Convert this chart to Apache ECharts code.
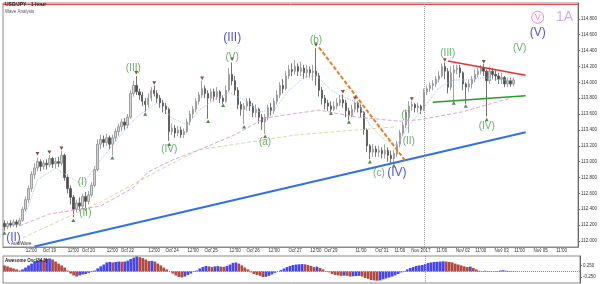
<!DOCTYPE html>
<html><head><meta charset="utf-8">
<script src="https://cdn.jsdelivr.net/npm/echarts@6/dist/echarts.min.js"></script>
<style>html,body{margin:0;padding:0;background:#fff}#c{width:600px;height:284px}</style>
</head><body><div id="c"></div>
<script>
const CATEGORY_COUNT = 192;
// [open, close, low, high]
const candles = [
[112.22,112.18,112.13,112.26],[112.18,112.22,112.15,112.25],[112.22,112.20,112.17,112.26],[112.20,112.24,112.18,112.27],
[112.24,112.21,112.17,112.27],[112.21,112.26,112.19,112.29],[112.26,112.40,112.24,112.43],[112.40,112.52,112.37,112.56],
[112.52,112.66,112.48,112.70],[112.66,112.84,112.62,112.88],[112.84,112.92,112.78,112.98],[112.92,113.00,112.88,113.05],
[113.00,112.94,112.88,113.03],[112.94,112.98,112.90,113.02],[112.98,112.96,112.90,113.03],[112.96,113.04,112.93,113.08],
[113.04,112.97,112.92,113.06],[112.97,113.00,112.91,113.05],[113.00,112.98,112.93,113.06],[112.98,113.08,112.95,113.14],
[113.08,112.80,112.76,113.10],[112.80,112.66,112.60,112.84],[112.66,112.55,112.46,112.70],[112.55,112.40,112.30,112.58],
[112.40,112.48,112.36,112.52],[112.48,112.44,112.38,112.55],[112.44,112.56,112.40,112.60],[112.56,112.50,112.38,112.62],
[112.50,112.58,112.46,112.63],[112.58,112.70,112.55,112.74],[112.70,112.90,112.68,112.94],[112.90,113.22,112.88,113.28],
[113.22,113.28,113.16,113.34],[113.28,113.24,113.18,113.33],[113.24,113.30,113.20,113.35],[113.30,113.22,113.16,113.33],
[113.22,113.30,113.08,113.34],[113.30,113.38,113.26,113.42],[113.38,113.44,113.32,113.48],[113.44,113.50,113.38,113.54],
[113.50,113.46,113.40,113.55],[113.46,113.56,113.42,113.60],[113.56,113.86,113.54,113.90],[113.86,113.96,113.82,114.02],
[113.96,113.88,113.84,114.08],[113.88,113.84,113.78,113.92],[113.84,113.76,113.70,113.88],[113.76,113.72,113.63,113.80],
[113.72,113.80,113.68,113.86],[113.80,113.90,113.76,113.94],[113.90,113.86,113.82,113.96],[113.86,113.80,113.74,113.90],
[113.80,113.74,113.68,113.84],[113.74,113.70,113.62,113.78],[113.70,113.66,113.60,113.74],[113.66,113.38,113.26,113.68],
[113.38,113.42,113.34,113.48],[113.42,113.36,113.30,113.46],[113.36,113.40,113.32,113.45],[113.40,113.34,113.30,113.44],
[113.34,113.38,113.30,113.42],[113.38,113.50,113.36,113.54],[113.50,113.60,113.46,113.64],[113.60,113.66,113.55,113.70],
[113.66,113.76,113.62,113.80],[113.76,113.84,113.72,113.88],[113.84,113.92,113.80,114.02],[113.92,113.86,113.80,113.96],
[113.86,113.80,113.54,113.90],[113.80,113.88,113.76,113.92],[113.88,113.82,113.76,113.92],[113.82,113.88,113.78,113.94],
[113.88,113.80,113.74,113.90],[113.80,113.76,113.73,113.84],[113.76,113.90,113.74,113.96],[113.90,114.10,113.88,114.18],
[114.10,114.02,113.96,114.25],[114.02,113.90,113.84,114.08],[113.90,113.72,113.66,113.94],[113.72,113.66,113.58,113.76],
[113.66,113.70,113.47,113.74],[113.70,113.76,113.64,113.80],[113.76,113.70,113.64,113.80],[113.70,113.62,113.56,113.74],
[113.62,113.66,113.56,113.72],[113.66,113.56,113.48,113.68],[113.56,113.50,113.40,113.60],[113.50,113.56,113.35,113.60],
[113.56,113.68,113.52,113.72],[113.68,113.64,113.58,113.74],[113.64,113.76,113.60,113.80],[113.76,113.84,113.72,113.90],
[113.84,113.96,113.80,114.00],[113.96,113.92,113.86,114.04],[113.92,114.08,113.90,114.14],[114.08,114.16,114.04,114.22],
[114.16,114.14,114.08,114.24],[114.14,114.20,114.10,114.28],[114.20,114.14,114.08,114.24],[114.14,114.18,114.08,114.26],
[114.18,114.12,114.04,114.22],[114.12,114.16,114.06,114.22],[114.16,114.12,114.06,114.20],[114.12,114.14,114.02,114.22],
[114.14,114.08,113.96,114.43],[114.08,113.90,113.82,114.12],[113.90,113.80,113.72,113.94],[113.80,113.74,113.66,113.84],
[113.74,113.70,113.64,113.78],[113.70,113.66,113.63,113.76],[113.66,113.70,113.64,113.76],[113.70,113.74,113.66,113.80],
[113.74,113.78,113.70,113.84],[113.78,113.74,113.68,113.85],[113.74,113.64,113.56,113.78],[113.64,113.58,113.52,113.68],
[113.58,113.66,113.56,113.72],[113.66,113.74,113.62,113.77],[113.74,113.68,113.62,113.76],[113.68,113.62,113.56,113.72],
[113.62,113.40,113.34,113.64],[113.40,113.20,113.12,113.42],[113.20,113.12,113.03,113.22],[113.12,113.16,113.06,113.22],
[113.16,113.12,113.06,113.20],[113.12,113.14,113.06,113.20],[113.14,113.10,113.04,113.18],[113.10,113.14,113.04,113.22],
[113.14,113.08,113.00,113.18],[113.08,113.04,112.98,113.14],[113.04,113.10,112.97,113.14],[113.10,113.22,113.06,113.26],
[113.22,113.36,113.18,113.40],[113.36,113.46,113.32,113.50],[113.46,113.62,113.42,113.66],[113.62,113.70,113.36,113.76],
[113.70,113.72,113.64,113.76],[113.72,113.68,113.62,113.74],[113.68,113.70,113.62,113.74],[113.70,113.66,113.60,113.72],
[113.66,113.88,113.64,113.92],[113.88,113.92,113.84,113.96],[113.92,113.96,113.88,114.00],[113.96,113.98,113.90,114.03],
[113.98,114.04,113.94,114.08],[114.04,114.08,114.00,114.14],[114.08,114.20,114.06,114.24],[114.20,114.14,114.04,114.25],
[114.14,113.94,113.86,114.18],[113.94,114.12,113.90,114.20],[114.12,114.16,113.76,114.22],[114.16,114.18,114.10,114.22],
[114.18,114.12,114.06,114.22],[114.12,113.98,113.90,114.14],[113.98,113.94,113.73,114.00],[113.94,113.98,113.88,114.04],
[113.98,114.04,113.92,114.08],[114.04,114.10,114.00,114.16],[114.10,114.14,114.06,114.18],[114.14,114.18,114.10,114.22],
[114.18,114.14,114.08,114.23],[114.14,114.02,113.57,114.16],[114.02,114.14,113.98,114.20],[114.14,114.10,114.04,114.18],
[114.10,114.08,114.02,114.16],[114.08,114.04,113.98,114.12],[114.04,114.06,113.98,114.12],[114.06,113.98,113.94,114.08],
[113.98,114.02,113.94,114.06],[114.02,113.98,113.94,114.06],[113.98,114.03,113.95,114.06]
];
const aoValues = [
0.26,0.22,0.17,0.13,0.09,0.04,0.09,0.17,0.26,0.34,0.43,0.47,0.52,0.49,0.54,0.56,0.52,0.43,0.34,0.26,
0.17,0.04,-0.09,-0.17,-0.22,-0.17,-0.13,-0.11,-0.06,-0.02,0.04,0.13,0.22,0.30,0.39,0.41,0.39,0.41,0.43,0.42,
0.43,0.47,0.54,0.60,0.65,0.62,0.58,0.52,0.45,0.46,0.43,0.34,0.26,0.17,0.09,0.00,-0.09,-0.17,-0.24,-0.26,
-0.22,-0.15,-0.09,-0.02,0.04,0.13,0.19,0.24,0.22,0.19,0.22,0.23,0.21,0.20,0.24,0.30,0.37,0.39,0.34,0.26,
0.17,0.09,-0.04,-0.11,-0.15,-0.19,-0.24,-0.23,-0.19,-0.13,-0.06,0.00,0.06,0.13,0.19,0.24,0.28,0.30,0.31,0.32,
0.31,0.28,0.24,0.19,0.21,0.15,0.09,0.02,-0.04,-0.11,-0.15,-0.17,-0.19,-0.18,-0.19,-0.22,-0.21,-0.20,-0.19,-0.22,
-0.28,-0.32,-0.37,-0.39,-0.40,-0.39,-0.34,-0.30,-0.26,-0.22,-0.17,-0.11,-0.04,0.02,0.09,0.15,0.19,0.24,0.26,0.28,
0.32,0.37,0.39,0.41,0.42,0.43,0.44,0.43,0.41,0.39,0.34,0.30,0.26,0.22,0.19,0.21,0.15,0.09,0.03,0.01,
0.03,0.02,0.01,-0.01,0.02,0.04,0.05,0.03,0.02,0.01,0.011
];
const fastMA = [[7,112.33],[11,112.77],[17,112.92],[22,112.80],[26,112.71],[32,113.02],[37,113.25],[41,113.44],[45,113.59],[51,113.74],[56,113.55],[61,113.46],[65,113.65],[70,113.78],[75,113.87],[80,113.78],[85,113.63],[90,113.65],[95,113.90],[100,114.06],[104,114.09],[109,113.90],[113,113.82],[118,113.74],[122,113.46],[127,113.27],[131,113.21],[135,113.46],[140,113.68],[145,113.93],[150,114.03],[155,114.03],[160,114.06],[165,114.03],[170,114.03]];
const slowMA = [[5,112.19],[15,112.34],[32,112.44],[43,112.67],[48,112.87],[56,113.02],[65,113.15],[77,113.34],[87,113.55],[105,113.65],[118,113.56],[132,113.51],[139,113.53],[153,113.63],[169,113.80]];
const tanMA = [[6,112.04],[32,112.49],[52,112.90],[65,113.15],[98,113.34],[131,113.44]];
const blueTrend = [[10,111.93],[174,113.37]];
const orangeTrend = [[105,114.44],[134,113.00]];
const redTrend = [[148,114.27],[174,114.09]];
const greenTrend = [[143,113.75],[174,113.83]];
const fractalHighs = [[11,113.10],[15,113.12],[19,113.17],[44,114.12],[50,113.99],[66,114.05],[76,114.29],[104,114.47],[113,113.88],[117,113.80],[136,113.79],[147,114.28],[160,114.26]];
const fractalLows = [[0,112.10],[23,112.26],[36,113.05],[47,113.60],[55,113.22],[68,113.51],[73,113.71],[80,113.44],[87,113.32],[109,113.61],[115,113.50],[122,113.00],[130,112.95],[150,113.74],[154,113.70],[161,113.53]];
const greenWaves = [[26,112.74,'(I)'],[27,112.35,'(II)'],[43,114.18,'(III)'],[55,113.15,'(IV)'],[76,114.32,'(V)'],[87,113.24,'(a)'],[104,114.53,'(b)'],[125,112.86,'(c)'],[134,113.58,'(I)'],[135,113.26,'(II)'],[148,114.37,'(III)'],[161,113.44,'(IV)'],[172,114.43,'(V)']];
const blueWaves = [[3,112.04,'(II)'],[76,114.56,'(III)'],[131,112.86,'(IV)'],[178,114.62,'(V)']];
const degreeMarks = [[178,114.82,'V'],[187,114.82,'1A']];
const timeTicks = [[9,'12:00'],[15,'Oct 19'],[23,'12:00'],[28,'Oct 20'],[36,'12:00'],[41,'Oct 22'],[50,'12:00'],[56,'Oct 24'],[63,'12:00'],[69,'Oct 25'],[77,'12:00'],[83,'Oct 26'],[90,'12:00'],[97,'Oct 27'],[104,'12:00'],[109,'Oct 29'],[119,'11:00'],[126,'Oct 31'],[132,'11:00'],[139,'Nov 2017'],[146,'11:00'],[153,'Nov 02'],[159,'11:00'],[166,'Nov 03'],[172,'11:00'],[179,'Nov 05'],[186,'11:00']];
const priceTicks = [112.0,112.2,112.4,112.6,112.8,113.0,113.2,113.4,113.6,113.8,114.0,114.2,114.4,114.6,114.8];
const priceTags = [[114.120,'#c4e2f0'],[114.025,'#9d9be8'],[113.881,'#f0a4a4'],[113.784,'#ffffff']];
const alertLevel = 114.98;
const monthStart = 140;
const aoTicks = [0.25,-0.25];
const aoCurrent = 0.011;

const categories = Array.from({length: CATEGORY_COUNT}, (_, i) => String(i));
const tickMap = {};
timeTicks.forEach(t => tickMap[t[0]] = t[1]);
const GREEN = '#3d9a3d', BLUE = '#1e1ed2', AO_UP = '#4646f0', AO_DN = '#b5483e';
const FONT = 'Liberation Sans';

const aoData = aoValues.map((v, i) => ({value: v, itemStyle: {color: (i === 0 || v < aoValues[i-1]) ? AO_DN : AO_UP}}));

const chart = echarts.init(document.getElementById('c'), null, {renderer: 'canvas'});
const trend = (data, color, width, type) => ({type: 'line', xAxisIndex: 0, yAxisIndex: 0, data, showSymbol: false, symbol: 'none', silent: true, lineStyle: {color, width, type: type || 'solid'}, z: 4});
const waveLabels = (data, color, size) => ({type: 'scatter', xAxisIndex: 0, yAxisIndex: 0, data, symbolSize: 1, itemStyle: {color: 'rgba(0,0,0,0)'}, silent: true, z: 6,
  label: {show: true, position: 'inside', formatter: p => p.data[2], color, fontSize: size, fontFamily: FONT}});

chart.setOption({
  animation: false,
  textStyle: {fontFamily: FONT},
  grid: [
    {left: 3, right: 20, top: 3, height: 244, show: true, borderColor: '#8a8a8a', borderWidth: 1, backgroundColor: '#fff'},
    {left: 3, right: 20, top: 256, height: 27, show: true, borderColor: '#8a8a8a', borderWidth: 1, backgroundColor: '#fff'}
  ],
  xAxis: [
    {type: 'category', gridIndex: 0, data: categories, boundaryGap: true,
     axisLine: {show: true, lineStyle: {color: '#888'}},
     axisTick: {show: true, alignWithLabel: true, length: 2, interval: i => tickMap[i] !== undefined, lineStyle: {color: '#888'}},
     axisLabel: {show: true, interval: i => tickMap[i] !== undefined, formatter: (v, i) => tickMap[i] || '', fontSize: 4.5, color: '#333', margin: 1.5, hideOverlap: false},
     splitLine: {show: false}},
    {type: 'category', gridIndex: 1, data: categories, boundaryGap: true,
     axisLine: {show: false}, axisTick: {show: false}, axisLabel: {show: false}, splitLine: {show: false}}
  ],
  yAxis: [
    {type: 'value', gridIndex: 0, position: 'right', min: 111.924, max: 115.0, scale: true,
     axisLine: {show: true, lineStyle: {color: '#666'}},
     axisTick: {show: true, length: 2, customValues: priceTicks, lineStyle: {color: '#666'}},
     axisLabel: {show: true, customValues: priceTicks, formatter: v => v.toFixed(3), fontSize: 4.5, color: '#333', margin: 3},
     splitLine: {show: false}},
    {type: 'value', gridIndex: 1, position: 'right', min: -0.5, max: 0.67,
     axisLine: {show: true, lineStyle: {color: '#666'}},
     axisTick: {show: true, length: 2, customValues: aoTicks, lineStyle: {color: '#666'}},
     axisLabel: {show: true, customValues: aoTicks, formatter: v => v.toFixed(3), fontSize: 4.5, color: '#333', margin: 3},
     splitLine: {show: false}}
  ],
  series: [
    trend(tanMA, '#e2d4a4', 1, 'dashed'),
    trend(slowMA, '#d9a6da', 1, 'dashed'),
    trend(fastMA, '#a9c8f0', 1, 'dotted'),
    {type: 'candlestick', xAxisIndex: 0, yAxisIndex: 0, data: candles, barWidth: '65%', z: 3,
     itemStyle: {color: '#d4d4d4', color0: '#505050', borderColor: '#8c8c8c', borderColor0: '#505050', borderWidth: 0.8},
     markLine: {silent: true, symbol: ['none', 'none'], animation: false,
       data: [
         {yAxis: alertLevel, lineStyle: {color: '#e84a4a', width: 1, type: 'solid'}, label: {show: false}},
         {xAxis: monthStart, lineStyle: {color: '#9a9a9a', width: 1, type: 'dotted'}, label: {show: false}},
         ...priceTags.map(t => ({yAxis: t[0], lineStyle: {opacity: 0}, label: {show: true, position: 'end', distance: 1, formatter: t[0].toFixed(3), fontSize: 4.5, color: '#222', backgroundColor: t[1], borderColor: '#555', borderWidth: 0.5, padding: [0.5, 1]}}))
       ]}},
    trend(blueTrend, '#2f6ff0', 2),
    trend(orangeTrend, '#f07a20', 2, [4, 2]),
    trend(redTrend, '#ee3030', 1.5),
    trend(greenTrend, '#2a9a2a', 1.5),
    {type: 'scatter', xAxisIndex: 0, yAxisIndex: 0, data: fractalHighs, symbol: 'triangle', symbolRotate: 180, symbolSize: [4, 3.5], itemStyle: {color: '#7a1a1a'}, silent: true, z: 5},
    {type: 'scatter', xAxisIndex: 0, yAxisIndex: 0, data: fractalLows, symbol: 'triangle', symbolSize: [4, 3.5], itemStyle: {color: '#1d6e1d'}, silent: true, z: 5},
    waveLabels(greenWaves, GREEN, 10),
    waveLabels(blueWaves, BLUE, 12),
    {type: 'scatter', xAxisIndex: 0, yAxisIndex: 0, data: [degreeMarks[0]], symbolSize: 12, itemStyle: {color: 'rgba(0,0,0,0)', borderColor: '#e866d6', borderWidth: 1}, silent: true, z: 6,
     label: {show: true, position: 'inside', formatter: p => p.data[2], color: '#e866d6', fontSize: 9}},
    waveLabels([degreeMarks[1]], '#c895ea', 14),
    {type: 'bar', xAxisIndex: 1, yAxisIndex: 1, data: aoData, barCategoryGap: '10%', silent: true,
     markLine: {silent: true, symbol: ['none', 'none'], animation: false,
       data: [
         {yAxis: 0, lineStyle: {color: '#888', width: 1, type: 'dotted'}, label: {show: false}},
         {xAxis: monthStart, lineStyle: {color: '#9a9a9a', width: 1, type: 'dotted'}, label: {show: false}},
         {yAxis: aoCurrent, lineStyle: {opacity: 0}, label: {show: true, position: 'end', distance: 1, formatter: aoCurrent.toFixed(3), fontSize: 4.5, color: '#222', backgroundColor: '#fff', borderColor: '#555', borderWidth: 0.5, padding: [0.5, 1]}}
       ]}}
  ],
  graphic: [
    {type: 'text', left: 5, top: 2, style: {text: 'USD/JPY - 1 hour', fontSize: 5, fontWeight: 'bold', fill: '#222', fontFamily: FONT}, z: 10},
    {type: 'text', left: 5, top: 9, style: {text: 'Wave Analysis', fontSize: 4.5, fill: '#555', fontFamily: FONT}, z: 10},
    {type: 'text', left: 11, top: 241, style: {text: 'AutoWave', fontSize: 4.5, fill: '#333', fontFamily: FONT}, z: 10},
    {type: 'text', left: 5, top: 258, style: {text: 'Awesome Osc(34,5)', fontSize: 4.5, fontWeight: 'bold', fill: '#222', fontFamily: FONT}, z: 10}
  ]
});
</script></body></html>
